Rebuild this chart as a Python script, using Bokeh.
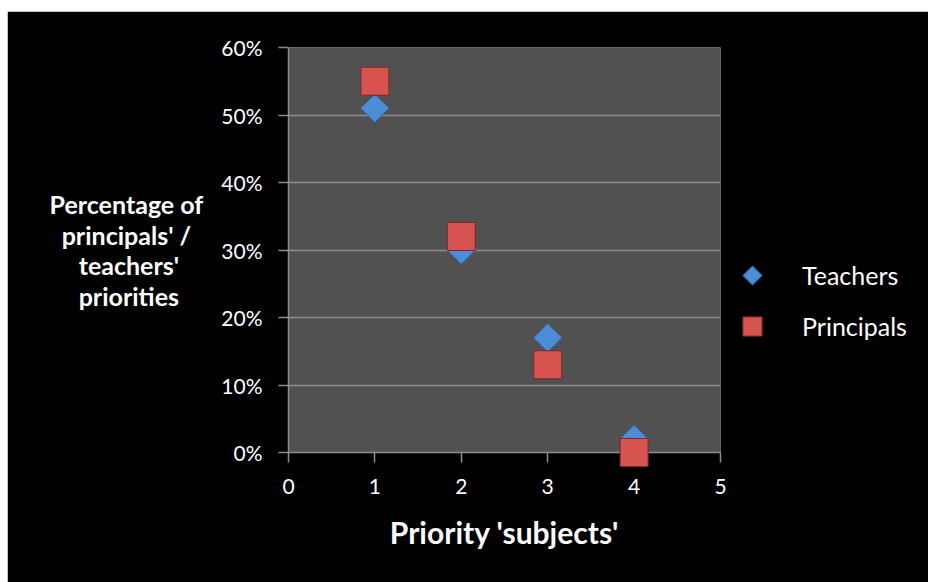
import numpy as np
from bokeh.plotting import figure
from bokeh.models import (Range1d, FixedTicker, NumeralTickFormatter,
                          Legend, LegendItem)
from bokeh.embed import file_html
from bokeh.resources import INLINE

# ---- data ----
priority = [1, 2, 3, 4]
teachers = [0.51, 0.30, 0.17, 0.02]
principals = [0.55, 0.32, 0.13, 0.00]
x_ticks = [0, 1, 2, 3, 4, 5]
y_ticks = [0.0, 0.1, 0.2, 0.3, 0.4, 0.5, 0.6]
y_title_lines = ["Percentage of", "principals' /", "teachers'", "priorities"]

FONT = "Lato"
BLUE, BLUE_EDGE = "#4d8dd8", "#2f67a6"
RED, RED_EDGE = "#d6534f", "#7d2826"

p = figure(frame_width=432, frame_height=405, output_backend="svg",
           toolbar_location=None,
           x_range=Range1d(0, 5), y_range=Range1d(0, 0.6),
           min_border_left=281, min_border_right=208,
           min_border_top=36, min_border_bottom=130)
p.margin = (11, 0, 0, 7)

p.background_fill_color = "#515151"
p.border_fill_color = "black"
p.outline_line_color = None

# grid
p.xgrid.grid_line_color = None
p.ygrid.grid_line_color = "#8e8e8e"
p.ygrid.grid_line_width = 1.5
p.ygrid.ticker = FixedTicker(ticks=y_ticks)

# axes
for ax in (p.xaxis[0], p.yaxis[0]):
    ax.axis_line_color = "#8e8e8e"
    ax.axis_line_width = 1.5
    ax.major_tick_line_color = "#8e8e8e"
    ax.major_tick_line_width = 1.5
    ax.major_tick_out = 10
    ax.major_tick_in = 0
    ax.minor_tick_line_color = None
    ax.major_label_text_color = "white"
    ax.major_label_text_font = FONT
    ax.major_label_text_font_size = "21px"

p.xaxis.ticker = FixedTicker(ticks=x_ticks)
p.yaxis.ticker = FixedTicker(ticks=y_ticks)
p.yaxis.formatter = NumeralTickFormatter(format="0%")
p.xaxis.major_label_standoff = 16
p.yaxis.major_label_standoff = 16

p.xaxis.axis_label = "Priority 'subjects'"
p.xaxis.axis_label_text_color = "white"
p.xaxis.axis_label_text_font = FONT
p.xaxis.axis_label_text_font_style = "bold"
p.xaxis.axis_label_text_font_size = "30px"
p.xaxis.axis_label_standoff = 17

# multi-line horizontal y title; lines padded with no-break spaces to look centred
pads = [0, 2, 4, 4]
p.yaxis.axis_label = "\n".join(t + "\u00a0" * n for t, n in zip(y_title_lines, pads))
p.yaxis.axis_label_orientation = "horizontal"
p.yaxis.axis_label_text_color = "white"
p.yaxis.axis_label_text_font = FONT
p.yaxis.axis_label_text_font_style = "bold"
p.yaxis.axis_label_text_font_size = "25px"
p.yaxis.axis_label_text_line_height = 1.02
p.yaxis.axis_label_standoff = 15

# series
r_t = p.scatter(priority, teachers, marker="square", size=20, angle=np.pi / 4,
                fill_color=BLUE, line_color=BLUE_EDGE, line_width=1)
r_p = p.scatter(priority, principals, marker="square", size=28,
                fill_color=RED, line_color=RED_EDGE, line_width=1)
r_t.level = "overlay"
r_p.level = "overlay"

# legend key for teachers drawn as a 4-gon (diamond), no visible point of its own
key_t = p.ngon(x=[np.nan], y=[np.nan], radius=10, radius_units="screen", n=4,
               fill_color=BLUE, line_color=BLUE_EDGE, line_width=1)

legend = Legend(items=[LegendItem(label="Teachers", renderers=[key_t]),
                       LegendItem(label="Principals", renderers=[r_p])],
                location=(8, 102), orientation="vertical",
                background_fill_alpha=0, border_line_alpha=0,
                label_text_color="white", label_text_font=FONT,
                label_text_font_size="25px", glyph_width=48, glyph_height=48,
                spacing=3, label_standoff=26, padding=0, margin=0)
p.add_layout(legend, "right")

open("out.html", "w").write(file_html(p, INLINE))
